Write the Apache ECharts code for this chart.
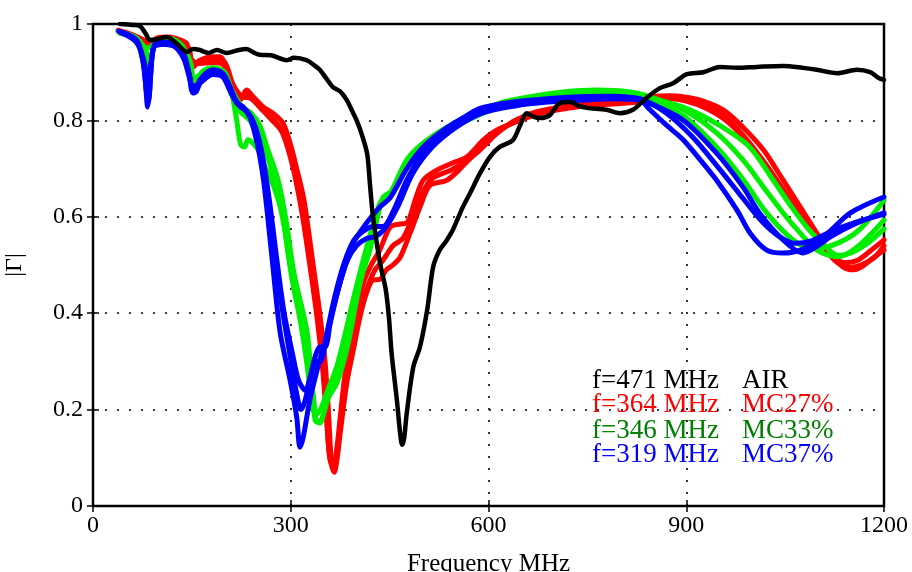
<!DOCTYPE html>
<html><head><meta charset="utf-8">
<script src="https://cdn.jsdelivr.net/npm/echarts@6/dist/echarts.min.js"></script>
<style>html,body{margin:0;padding:0;background:#fff}#c{width:912px;height:572px}</style>
</head><body><div id="c"></div>
<script>
var xTicks = [0, 300, 600, 900, 1200];
var yTicks = [0, 0.2, 0.4, 0.6, 0.8, 1];
var legendLeft = ['f=471 MHz', 'f=364 MHz', 'f=346 MHz', 'f=319 MHz'];
var legendRight = ['AIR', 'MC27%', 'MC33%', 'MC37%'];

var air = [[41,1.0],[60,0.998],[71,0.996],[80,0.98],[86,0.967],[95,0.968],[112,0.973],[125,0.962],[143,0.942],[152,0.948],[162,0.946],[175,0.94],[188,0.946],[203,0.94],[218,0.945],[233,0.948],[245,0.94],[253,0.936],[270,0.935],[294,0.925],[305,0.93],[324,0.925],[335,0.915],[344,0.905],[355,0.885],[364,0.869],[375,0.86],[385,0.842],[393,0.82],[400,0.80],[408,0.77],[416,0.73],[420,0.67],[424,0.61],[430,0.55],[436,0.50],[444,0.45],[449,0.39],[453,0.317],[461,0.22],[466,0.15],[469,0.127],[472,0.14],[476,0.193],[486,0.289],[496,0.33],[507,0.407],[516,0.496],[526,0.531],[536,0.55],[546,0.573],[561,0.62],[572,0.649],[587,0.69],[602,0.724],[617,0.745],[637,0.759],[648,0.79],[658,0.815],[668,0.808],[678,0.805],[693,0.811],[708,0.836],[724,0.838],[737,0.83],[749,0.826],[779,0.822],[799,0.815],[819,0.822],[840,0.847],[860,0.867],[880,0.877],[901,0.896],[926,0.90],[951,0.911],[977,0.909],[1007,0.911],[1047,0.913],[1077,0.909],[1098,0.905],[1129,0.898],[1159,0.905],[1179,0.90],[1192,0.888],[1200,0.884]];

var mc27a = [[38,0.987],[61,0.977],[82,0.963],[90,0.955],[97,0.971],[117,0.973],[132,0.967],[142,0.96],[147,0.935],[152,0.911],[162,0.925],[182,0.932],[193,0.932],[203,0.909],[212,0.869],[223,0.842],[233,0.863],[243,0.849],[258,0.828],[273,0.815],[288,0.795],[299,0.753],[309,0.70],[320,0.635],[334,0.50],[344,0.40],[352,0.30],[357,0.20],[362,0.085],[366,0.07],[370,0.095],[375,0.151],[385,0.255],[395,0.324],[405,0.392],[415,0.442],[425,0.469],[435,0.47],[445,0.49],[455,0.50],[466,0.516],[481,0.566],[496,0.62],[511,0.665],[537,0.676],[555,0.697],[570,0.718],[587,0.739],[602,0.759],[617,0.78],[637,0.795],[658,0.811],[680,0.82],[720,0.83],[760,0.835],[800,0.84],[840,0.848],[875,0.851],[900,0.848],[921,0.842],[956,0.822],[986,0.786],[1017,0.739],[1047,0.676],[1073,0.62],[1098,0.566],[1118,0.525],[1138,0.496],[1153,0.49],[1165,0.495],[1179,0.51],[1200,0.531]];
var mc27b = [[40,0.985],[62,0.975],[84,0.955],[97,0.968],[117,0.97],[132,0.962],[145,0.95],[152,0.915],[162,0.92],[182,0.925],[200,0.92],[212,0.875],[223,0.85],[235,0.855],[250,0.835],[265,0.81],[285,0.78],[296,0.74],[307,0.68],[318,0.60],[330,0.49],[340,0.39],[348,0.29],[354,0.19],[359,0.10],[364,0.08],[369,0.11],[374,0.17],[382,0.27],[392,0.35],[402,0.42],[412,0.47],[422,0.50],[435,0.531],[451,0.579],[466,0.585],[476,0.587],[490,0.64],[501,0.676],[522,0.697],[546,0.712],[567,0.724],[592,0.759],[613,0.78],[648,0.80],[680,0.815],[720,0.825],[760,0.832],[800,0.835],[840,0.84],[875,0.845],[900,0.84],[930,0.825],[960,0.80],[990,0.76],[1020,0.71],[1050,0.65],[1075,0.60],[1100,0.555],[1120,0.52],[1140,0.505],[1160,0.51],[1180,0.53],[1200,0.552]];
var mc27c = [[42,0.982],[64,0.972],[85,0.96],[97,0.965],[117,0.968],[135,0.958],[150,0.925],[162,0.918],[182,0.92],[198,0.915],[210,0.88],[225,0.85],[240,0.845],[258,0.82],[275,0.80],[292,0.77],[303,0.72],[314,0.65],[326,0.55],[338,0.44],[346,0.34],[352,0.24],[357,0.13],[361,0.09],[366,0.08],[371,0.12],[378,0.20],[388,0.29],[398,0.36],[408,0.42],[418,0.46],[428,0.49],[440,0.51],[455,0.54],[470,0.555],[485,0.60],[500,0.65],[515,0.68],[540,0.695],[560,0.71],[585,0.745],[610,0.77],[640,0.80],[680,0.818],[720,0.828],[760,0.834],[800,0.838],[840,0.845],[875,0.85],[905,0.843],[935,0.83],[965,0.80],[995,0.755],[1025,0.70],[1055,0.64],[1080,0.59],[1105,0.545],[1125,0.51],[1145,0.495],[1165,0.50],[1185,0.515],[1200,0.54]];

var mc33a = [[38,0.985],[60,0.97],[75,0.94],[83,0.90],[90,0.94],[97,0.968],[117,0.97],[135,0.955],[147,0.905],[152,0.87],[158,0.875],[165,0.90],[182,0.91],[200,0.90],[210,0.86],[218,0.80],[224,0.75],[230,0.745],[235,0.76],[250,0.74],[262,0.70],[275,0.66],[288,0.60],[299,0.50],[314,0.427],[325,0.359],[332,0.255],[337,0.178],[344,0.172],[355,0.22],[370,0.255],[385,0.324],[395,0.392],[405,0.463],[420,0.531],[435,0.62],[451,0.649],[476,0.718],[501,0.753],[537,0.786],[577,0.815],[617,0.836],[663,0.849],[713,0.859],[764,0.863],[815,0.859],[845,0.849],[896,0.822],[946,0.774],[986,0.718],[1017,0.662],[1047,0.608],[1073,0.566],[1098,0.531],[1129,0.517],[1159,0.537],[1200,0.593]];
var mc33b = [[42,0.98],[65,0.972],[82,0.95],[90,0.955],[97,0.965],[117,0.968],[135,0.955],[148,0.92],[153,0.885],[162,0.895],[182,0.905],[198,0.90],[210,0.865],[225,0.83],[240,0.815],[253,0.79],[265,0.74],[280,0.68],[292,0.60],[304,0.49],[318,0.40],[328,0.30],[335,0.22],[340,0.175],[347,0.18],[358,0.23],[372,0.28],[386,0.35],[398,0.42],[410,0.49],[425,0.56],[440,0.64],[455,0.655],[478,0.71],[505,0.745],[540,0.78],[580,0.808],[620,0.83],[665,0.845],[715,0.855],[765,0.86],[815,0.855],[850,0.845],[900,0.825],[950,0.79],[996,0.745],[1030,0.68],[1060,0.62],[1085,0.575],[1110,0.54],[1130,0.52],[1150,0.525],[1175,0.545],[1200,0.575]];
var mc33c = [[40,0.982],[62,0.974],[80,0.945],[86,0.92],[92,0.95],[100,0.966],[117,0.966],[135,0.952],[146,0.91],[151,0.88],[160,0.89],[182,0.90],[198,0.895],[210,0.855],[222,0.82],[238,0.80],[252,0.765],[266,0.72],[278,0.66],[290,0.58],[302,0.47],[315,0.38],[325,0.29],[332,0.21],[338,0.19],[345,0.20],[356,0.24],[370,0.29],[383,0.36],[395,0.43],[408,0.50],[422,0.57],[436,0.63],[450,0.645],[475,0.70],[500,0.74],[535,0.775],[575,0.805],[615,0.828],[660,0.842],[710,0.852],[760,0.857],[810,0.852],[845,0.84],[895,0.81],[946,0.745],[985,0.68],[1022,0.608],[1062,0.552],[1090,0.535],[1120,0.54],[1160,0.57],[1200,0.635]];

var mc37a = [[39,0.985],[66,0.967],[75,0.93],[79,0.89],[83,0.828],[86,0.86],[89,0.925],[97,0.963],[121,0.96],[137,0.94],[147,0.89],[152,0.857],[157,0.86],[162,0.884],[182,0.905],[197,0.898],[208,0.869],[218,0.836],[228,0.828],[238,0.807],[249,0.753],[258,0.683],[264,0.614],[273,0.496],[284,0.359],[299,0.261],[309,0.185],[314,0.122],[319,0.143],[329,0.22],[344,0.303],[354,0.35],[364,0.407],[379,0.483],[395,0.546],[415,0.587],[435,0.62],[451,0.64],[476,0.70],[501,0.745],[537,0.785],[561,0.805],[587,0.825],[637,0.838],[689,0.845],[739,0.849],[789,0.85],[830,0.842],[845,0.822],[870,0.79],[896,0.759],[920,0.72],[946,0.676],[977,0.614],[997,0.566],[1022,0.531],[1047,0.525],[1073,0.531],[1108,0.558],[1149,0.608],[1200,0.641]];
var mc37b = [[41,0.983],[66,0.965],[76,0.92],[81,0.86],[84,0.84],[88,0.9],[94,0.955],[121,0.958],[137,0.935],[146,0.895],[151,0.86],[158,0.865],[165,0.885],[182,0.9],[197,0.895],[210,0.86],[220,0.835],[232,0.82],[244,0.79],[255,0.73],[265,0.65],[275,0.54],[286,0.42],[298,0.32],[308,0.24],[316,0.20],[322,0.22],[330,0.27],[338,0.30],[345,0.30],[355,0.36],[366,0.43],[380,0.50],[395,0.55],[410,0.57],[425,0.58],[440,0.58],[455,0.61],[476,0.676],[501,0.732],[537,0.774],[561,0.80],[587,0.822],[637,0.836],[689,0.842],[739,0.847],[789,0.849],[830,0.845],[845,0.836],[896,0.80],[946,0.732],[986,0.662],[1011,0.608],[1047,0.552],[1077,0.525],[1100,0.54],[1118,0.558],[1159,0.587],[1200,0.608]];
var mc37c = [[43,0.982],[66,0.962],[78,0.92],[83,0.87],[88,0.92],[96,0.958],[121,0.955],[137,0.93],[146,0.89],[151,0.87],[160,0.875],[182,0.895],[197,0.89],[210,0.855],[222,0.83],[236,0.815],[248,0.78],[258,0.72],[268,0.63],[279,0.51],[290,0.40],[302,0.32],[312,0.26],[322,0.24],[330,0.27],[337,0.31],[344,0.33],[352,0.33],[360,0.38],[372,0.45],[386,0.51],[400,0.54],[415,0.555],[430,0.56],[445,0.58],[462,0.62],[485,0.69],[515,0.745],[550,0.785],[590,0.815],[640,0.83],[690,0.838],[740,0.842],[790,0.845],[835,0.84],[870,0.815],[910,0.765],[950,0.70],[985,0.64],[1015,0.59],[1040,0.56],[1065,0.545],[1090,0.55],[1120,0.57],[1160,0.59],[1200,0.605]];

var FONT = 'Liberation Serif';
function line(data, color, w) {
  return { type: 'line', data: data, showSymbol: false, symbol: 'none', smooth: 0.3,
    lineStyle: { color: color, width: w, cap: 'round', join: 'round' }, animation: false, clip: true };
}
var chart = echarts.init(document.getElementById('c'), null, { renderer: 'canvas' });
var dotted = { show: true, lineStyle: { color: '#000', type: [2, 10], width: 1.6 } };
chart.setOption({
  animation: false,
  grid: { left: 93, right: 28, top: 24, bottom: 66, containLabel: false, outerBoundsMode: 'none', show: true, borderColor: '#000', borderWidth: 2.5, backgroundColor: 'transparent' },
  xAxis: [{
    type: 'value', min: xTicks[0], max: xTicks[xTicks.length - 1], interval: 300,
    name: 'Frequency MHz', nameLocation: 'middle', nameGap: 46,
    nameTextStyle: { fontFamily: FONT, fontSize: 25, color: '#000' },
    axisLine: { show: false }, axisTick: { show: true, inside: true, length: 6, lineStyle: { color: '#000', width: 1.5 } },
    axisLabel: { fontFamily: FONT, fontSize: 24, color: '#000', margin: 8, formatter: function (v) { return xTicks.indexOf(v) >= 0 ? String(v) : ''; } },
    splitLine: dotted
  }, {
    type: 'value', position: 'top', min: 0, max: 1200, interval: 300,
    axisLine: { show: false }, axisLabel: { show: false }, splitLine: { show: false },
    axisTick: { show: true, inside: true, length: 6, lineStyle: { color: '#000', width: 1.5 } }
  }],
  yAxis: [{
    type: 'value', min: 0, max: 1, interval: 0.2,
    name: '|Γ|', nameLocation: 'middle', nameGap: 66, nameRotate: 90,
    nameTextStyle: { fontFamily: FONT, fontSize: 24, color: '#000' },
    axisLine: { show: false }, axisTick: { show: true, inside: true, length: 6, lineStyle: { color: '#000', width: 1.5 } },
    axisLabel: { fontFamily: FONT, fontSize: 24, color: '#000', margin: 10, formatter: function (v) {
      var t = yTicks.find(function (y) { return Math.abs(y - v) < 1e-6; });
      return t === undefined ? '' : String(t);
    } },
    splitLine: dotted
  }, {
    type: 'value', position: 'right', min: 0, max: 1, interval: 0.2,
    axisLine: { show: false }, axisLabel: { show: false }, splitLine: { show: false },
    axisTick: { show: true, inside: true, length: 6, lineStyle: { color: '#000', width: 1.5 } }
  }],
  series: [
    line(mc27a, '#ff0000', 5), line(mc27b, '#ff0000', 5), line(mc27c, '#ff0000', 5),
    line(mc33a, '#00ee00', 5), line(mc33b, '#00ee00', 5), line(mc33c, '#00ee00', 5),
    line(mc37a, '#0000ff', 5), line(mc37b, '#0000ff', 5), line(mc37c, '#0000ff', 5),
    line(air, '#000000', 4.5)
  ],
  graphic: [0, 1, 2, 3].map(function (i) {
    var cols = ['#000000', '#ff0000', '#008000', '#0000ff'];
    var ys = [381, 405, 431, 455];
    return { type: 'group', children: [
      { type: 'text', x: 592, y: ys[i], style: { text: legendLeft[i], fill: cols[i], font: '27px "' + FONT + '"', textVerticalAlign: 'middle' } },
      { type: 'text', x: 742, y: ys[i], style: { text: legendRight[i], fill: cols[i], font: '27px "' + FONT + '"', textVerticalAlign: 'middle' } }
    ] };
  })
});
</script></body></html>
